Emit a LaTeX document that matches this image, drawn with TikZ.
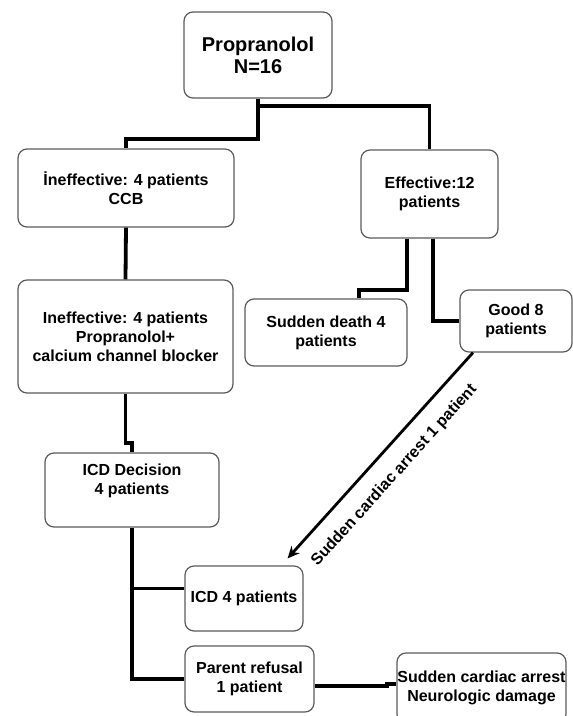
\documentclass[tikz,border=0pt]{standalone}
\usepackage{fontspec}
\setmainfont{Liberation Sans}
\usetikzlibrary{arrows.meta,positioning}
\definecolor{boxline}{RGB}{90,90,90}

\begin{document}
\begin{tikzpicture}[
  x=1pt,y=-1pt,
  font=\bfseries\fontsize{16}{19}\selectfont,
  box/.style={rectangle,rounded corners=9pt,draw=boxline,line width=1.2pt,align=center,inner sep=0pt},
  link/.style={line width=3.8pt,black},
  arc/.style={-{Stealth[length=12pt,width=11pt]},line width=2.8pt,black},
  lab/.style={font=\bfseries\fontsize{16}{19}\selectfont,inner sep=0pt},
]
\useasboundingbox (0,0) rectangle (573,716);
\node[box,minimum width=148pt,minimum height=86pt,font=\bfseries\fontsize{20}{22}\selectfont] (prop) at (258,55) {Propranolol\\N=16};
\node[box,minimum width=216pt,minimum height=78pt] (ineff) at (126,188) {İneffective: 4 patients\\CCB};
\node[box,minimum width=137pt,minimum height=88pt] (eff) at (429.5,194) {Effective:12\\patients};
\node[box,minimum width=215pt,minimum height=113pt] (comb) at (125.5,336.5) {Ineffective: 4 patients\\Propranolol+\\calcium channel blocker};
\node[box,minimum width=162pt,minimum height=67pt] (sd) at (326,332.5) {Sudden death 4\\patients};
\node[box,minimum width=112pt,minimum height=62pt] (good) at (516,321) {Good 8\\patients};
\node[box,minimum width=174pt,minimum height=74pt,text depth=22pt] (icdd) at (132,490) {ICD Decision\\4 patients};
\node[box,minimum width=118pt,minimum height=65pt] (icd) at (244,598.5) {ICD 4 patients};
\node[box,minimum width=129pt,minimum height=66pt] (parent) at (249.5,679) {Parent refusal\\1 patient};
\node[box,minimum width=169pt,minimum height=70pt] (sca) at (481.5,688) {Sudden cardiac arrest\\Neurologic damage};
\draw[link] (prop.south) -- ++(0,40) -| (ineff.north);
\draw[link] ([yshift=-7pt]prop.south) -| (eff.north);
\draw[link] (ineff.south) -- (comb.north);
\draw[link] ([xshift=-22.5pt]eff.south) -- ++(0,51) -| ([xshift=33pt]sd.north);
\draw[link] ([xshift=3.5pt]eff.south) |- (good.west);
\draw[link] (comb.south) -- ++(0,49) -| (icdd.north);
\draw[link] (icdd.south) |- ([yshift=10pt]icd.west);
\draw[link] (icdd.south) |- (parent.west);
\draw[link] ([yshift=-7pt]parent.east) -- ++(72,0) |- ([yshift=4pt]sca.west);
\draw[arc] ([xshift=-43pt]good.south) -- ([shift={(-16pt,7pt)}]icd.north east)
  node[lab,sloped,below=15pt,pos=0.52] {Sudden cardiac arrest 1 patient};
\end{tikzpicture}
\end{document}
